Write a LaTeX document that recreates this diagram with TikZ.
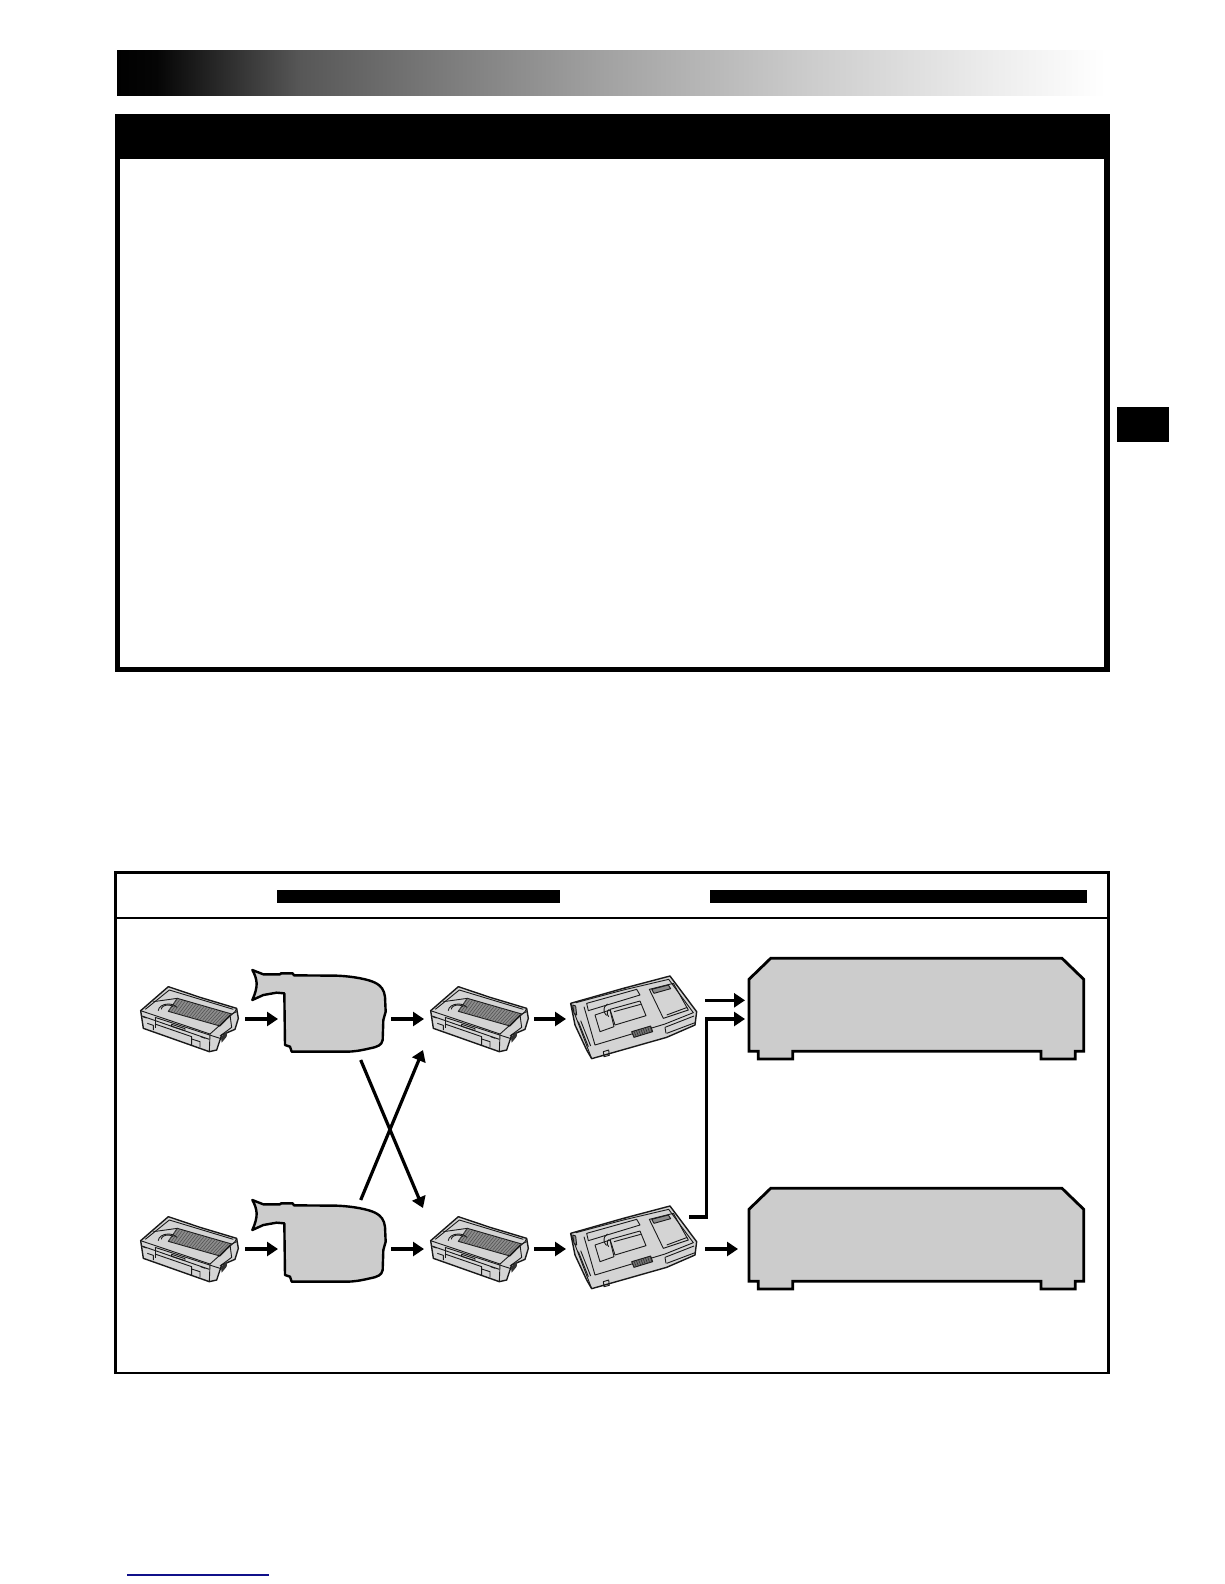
\documentclass[tikz,border=0pt]{standalone}
\usetikzlibrary{arrows.meta}
\definecolor{bodygray}{HTML}{CCCCCC}
\definecolor{facegray}{HTML}{D4D4D4}
\definecolor{linkblue}{HTML}{10108A}
\pgfdeclarehorizontalshading{bandfade}{100bp}{
  color(0bp)=(black);
  color(25bp)=(black);
  color(27bp)=(black!98);
  color(34.25bp)=(black!66);
  color(42.5bp)=(black!50);
  color(50bp)=(black!36);
  color(60bp)=(black!20);
  color(69.5bp)=(black!7);
  color(75bp)=(white);
  color(100bp)=(white)}
\tikzset{
  flow/.style={line width=3.2pt,-{Triangle[length=11pt,width=14pt]}},
  shapeline/.style={draw=black,fill=bodygray,line width=2.4pt,line join=round},
  iconline/.style={draw=black!90,line width=0.9pt,line join=round},
  iconheavy/.style={draw=black!90,line width=1.4pt,line join=round},
  pics/cassetteicon/.style={code={
    \draw[iconheavy,fill=facegray] (62,212)--(145,140)--(240,172)--(350,205)--(355,235)--(345,268)--(305,285)--(290,330)--(268,335)--(70,265)--cycle;
    \draw[iconline] (62,212)--(270,282)--(345,215)--(350,205);
    \draw[iconline] (76,208)--(148,150)--(340,208);
    \draw[iconline] (66,228)--(268,298);
    \draw[iconline] (270,282)--(268,335);
    \draw[iconline,fill=black!45] (172,175)--(335,222)--(300,258)--(145,214)--cycle;
    \foreach \t in {0,0.05,...,1}{
      \draw[black!70,line width=0.5pt] ({172+163*\t},{175+47*\t})--({145+155*\t},{214+44*\t});
    }
    \draw[iconline] (115,212) arc[start angle=180,end angle=330,x radius=30,y radius=20];
    \draw[iconline] (124,208) arc[start angle=180,end angle=320,x radius=20,y radius=13];
    \draw[iconline] (100,185)--(172,175);
    \draw[iconline] (105,232)--(300,295);
    \draw[iconline] (105,232)--(105,265);
    \draw[iconline] (105,252)--(215,290)--(215,315);
    \draw[iconline] (82,250)--(100,256)--(100,270);
    \draw[iconline] (155,253)--(195,266)--(195,272)--(155,259)--cycle;
    \draw[iconline] (215,297)--(240,305)--(240,322);
    \draw[iconline] (295,260)--(330,225)--(335,262)--(300,288);
    \fill[black!80] (303,292)--(322,272)--(320,290)--(305,308)--cycle;
    \draw[iconline] (335,222)--(350,215);
    \draw[iconline] (242,290)--(256,295);
    \draw[iconline] (68,230)--(80,234);
  }},
  pics/adaptericon/.style={code={
    \draw[iconheavy,fill=facegray] (482,160)--(640,115)--(780,78)--(860,185)--(855,225)--(770,262)--(545,326)--(530,300)--(495,225)--cycle;
    \draw[iconline] (482,160)--(545,326);
    \draw[iconline] (498,158)--(640,120)--(776,88)--(850,188)--(765,222)--(555,285)--(522,170);
    \draw[iconline] (530,160)--(680,118)--(690,135)--(535,182)--cycle;
    \draw[iconline] (600,178)--(690,153)--(708,197)--(615,225)--cycle;
    \draw[iconline] (612,185)--(692,163);
    \draw[iconline] (555,195)--(600,180)--(612,230)--(570,245)--cycle;
    \draw[iconline] (590,196) arc[start angle=120,end angle=250,x radius=16,y radius=19];
    \draw[iconline] (596,200) arc[start angle=120,end angle=250,x radius=9,y radius=12];
    \draw[iconline] (718,118)--(790,100)--(835,180)--(760,205)--cycle;
    \draw[iconline,fill=black!45] (725,118)--(775,105)--(782,116)--(732,130)--cycle;
    \draw[iconline] (770,195)--(832,172);
    \draw[iconline,fill=black!55] (665,245)--(722,228)--(728,245)--(672,262)--cycle;
    \foreach \t in {0,0.12,...,1}{
      \draw[black!85,line width=0.5pt] ({665+57*\t},{245-17*\t})--({672+56*\t},{262-17*\t});
    }
    \draw[iconline] (765,232)--(852,198);
    \draw[iconline] (768,250)--(765,232);
    \draw[iconline] (770,250)--(855,218);
    \draw[iconline,fill=black!45] (488,165)--(492,190)--(500,195)--(497,168)--cycle;
    \draw[iconline] (505,215)--(535,290);
    \draw[iconline] (512,212)--(542,288);
    \draw[iconline] (580,305)--(596,300)--(598,316)--(582,320)--cycle;
    \draw[iconline] (640,117)--(650,112);
  }},
  pics/camcordericon/.style={code={
    \draw[shapeline] (397,90)--(430,103)--(480,103)--(483,100)--(518,100)--(522,106)--(650,107)
      .. controls (700,109) and (745,118) .. (765,128)
      .. controls (785,138) and (792,150) .. (795,170)
      --(797,215)--(790,240)--(788,300)
      .. controls (785,315) and (775,320) .. (750,325)
      .. controls (720,332) and (700,335) .. (680,335)
      --(515,335)--(510,320)--(495,315)--(493,160)--(470,158)--(430,165)--(397,180)
      .. controls (406,160) and (410,145) .. (410,130)
      .. controls (409,115) and (404,102) .. (397,90) --cycle;
  }},
  pics/deckicon/.style={code={
    \draw[shapeline,line width=2.8pt,line join=miter] (749,979.3)--(770.7,958.3)--(1062,958.3)--(1083.7,979.3)--(1083.7,1051.3)
      --(1075.3,1051.3)--(1075.3,1059)--(1041,1059)--(1041,1051.3)--(792.7,1051.3)--(792.7,1059)
      --(758.3,1059)--(758.3,1051.3)--(749,1051.3)--cycle;
  }}
}
\begin{document}
\begin{tikzpicture}[x=1pt,y=-1pt]
\useasboundingbox[fill=white] (0,0) rectangle (1224,1584);

% top band
\shade[shading=bandfade] (117,51) rectangle (1105,96);

% black box
\fill[black] (115,114) rectangle (1110,672);
\fill[white] (120,159) rectangle (1104,667);

% side tab
\fill[black] (1117,407) rectangle (1169,442);

% lower frame
\draw[black,line width=2.7pt] (115.7,872.5) rectangle (1108.7,1373);
\draw[black,line width=2pt] (115.7,917.7) -- (1108.7,917.7);
\fill[black] (277,890) rectangle (560,903);
\fill[black] (710,890) rectangle (1087,903);

% icons, top row
\pic (cassA) at (120,940) [scale=0.33333] {cassetteicon};
\pic (camA) at (120,940) [scale=0.33333] {camcordericon};
\pic (cassB) at (410,950) [scale=0.33333,shift={(0,-30)}] {cassetteicon};
\pic (adaptA) at (410,950) [scale=0.33333] {adaptericon};
\pic (deckA) at (0,0) {deckicon};

% icons, bottom row
\pic (cassC) at (120,1170) [scale=0.33333] {cassetteicon};
\pic (camC) at (120,1170) [scale=0.33333] {camcordericon};
\pic (cassD) at (410,1180) [scale=0.33333,shift={(0,-30)}] {cassetteicon};
\pic (adaptC) at (410,1180) [scale=0.33333] {adaptericon};
\pic (deckC) at (0,230) {deckicon};

% connector ends
\coordinate (a1s) at (245,1019);   \coordinate (a1e) at (278,1019);
\coordinate (a2s) at (391,1019);   \coordinate (a2e) at (424,1019);
\coordinate (a3s) at (534,1019);   \coordinate (a3e) at (566,1019);
\coordinate (a4s) at (705,1000.3); \coordinate (a4e) at (745,1000.3);
\coordinate (j1)  at (706.5,1019); \coordinate (j1e) at (745,1019);
\coordinate (j0)  at (689,1217);   \coordinate (j2) at (706.5,1217);
\coordinate (b1s) at (245,1249);   \coordinate (b1e) at (278,1249);
\coordinate (b2s) at (391,1249);   \coordinate (b2e) at (424,1249);
\coordinate (b3s) at (534,1249);   \coordinate (b3e) at (566,1249);
\coordinate (b4s) at (705,1249);   \coordinate (b4e) at (738,1249);
\coordinate (x1s) at (360.7,1060); \coordinate (x1e) at (423,1208);
\coordinate (x2s) at (360.7,1200); \coordinate (x2e) at (423,1050);
\coordinate (lk1) at (127,1575);   \coordinate (lk2) at (269,1575);

\draw[flow] (a1s) -- (a1e);
\draw[flow] (a2s) -- (a2e);
\draw[flow] (a3s) -- (a3e);
\draw[flow] (a4s) -- (a4e);
\draw[flow,line join=miter] (j0) -- (j2) -- (j1) -- (j1e);
\draw[flow] (b1s) -- (b1e);
\draw[flow] (b2s) -- (b2e);
\draw[flow] (b3s) -- (b3e);
\draw[flow] (b4s) -- (b4e);
\draw[flow] (x1s) -- (x1e);
\draw[flow] (x2s) -- (x2e);

% link underline
\draw[linkblue,line width=1.1pt] (lk1) -- (lk2);
\end{tikzpicture}
\end{document}
